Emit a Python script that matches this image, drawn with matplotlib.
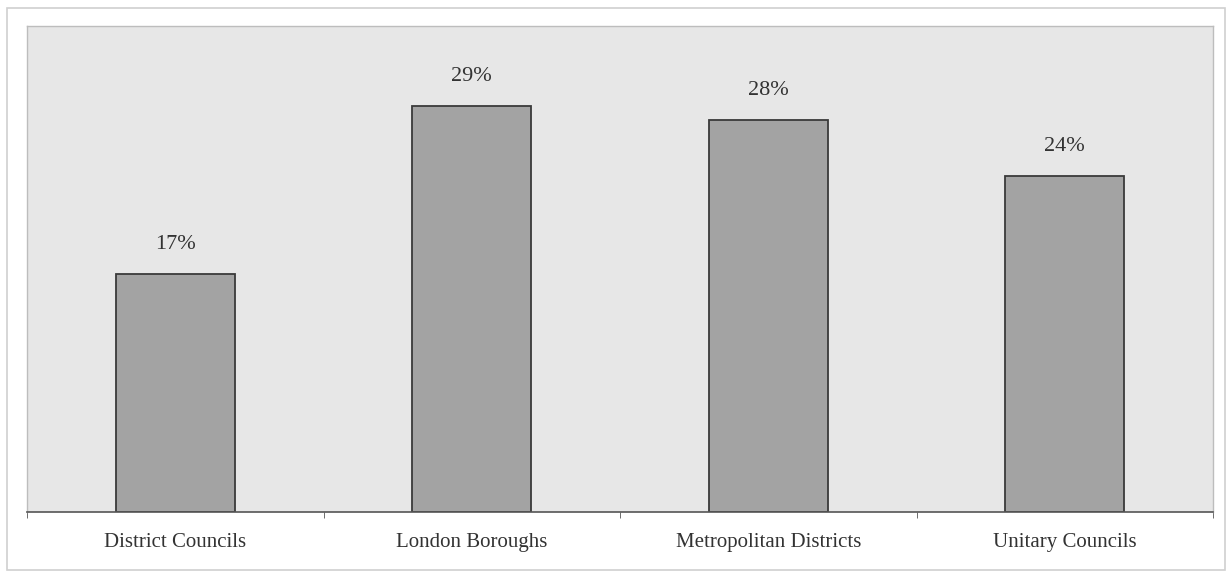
import numpy as np
import matplotlib.pyplot as plt
from matplotlib.patches import Rectangle

# data
categories = ['District Councils', 'London Boroughs', 'Metropolitan Districts', 'Unitary Councils']
shares = [17, 29, 28, 24]
labels = ['17%', '29%', '28%', '24%']

plt.rcParams['font.family'] = ['Liberation Serif', 'DejaVu Serif']

fig = plt.figure(figsize=(12.32, 5.74), dpi=100)
fig.patch.set_facecolor('white')

# outer frame
fig.patches.append(Rectangle((7 / 1232, 4 / 574), 1218 / 1232, 562 / 574,
                             transform=fig.transFigure, fill=False,
                             edgecolor='#d0d0d0', linewidth=1.2))

ax = fig.add_axes([27 / 1232, 62 / 574, 1186 / 1232, 486 / 574])
ax.set_facecolor('#e7e7e7')

x = np.arange(len(categories))
bars = ax.bar(x, shares, width=0.4, color='#a3a3a3', edgecolor='#3a3a3a', linewidth=1.3)

for b, lab in zip(bars, labels):
    ax.annotate(lab, (b.get_x() + b.get_width() / 2, b.get_height()),
                xytext=(0, 14), textcoords='offset points',
                ha='center', va='bottom', fontsize=16, color='#333333')

ax.set_xlim(-0.5, len(categories) - 0.5)
ax.set_ylim(0, 34.7)
ax.set_yticks([])

ax.set_xticks(x)
ax.set_xticklabels(categories, fontsize=15, color='#333333')
ax.tick_params(axis='x', length=0, pad=15)
ax.set_xticks(np.arange(len(categories) + 1) - 0.5, minor=True)
ax.tick_params(axis='x', which='minor', length=4, color='#555555')

for side in ['top', 'left', 'right']:
    ax.spines[side].set_color('#bdbdbd')
    ax.spines[side].set_linewidth(1.0)
ax.spines['bottom'].set_color('#555555')
ax.spines['bottom'].set_linewidth(1.2)

plt.savefig('out.png', dpi=100)
